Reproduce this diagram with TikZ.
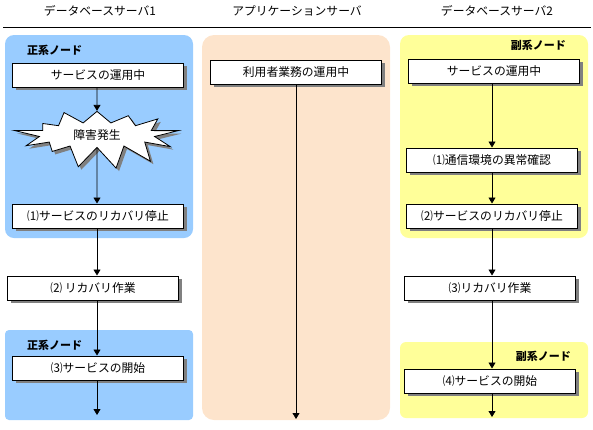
\documentclass[tikz,border=0pt]{standalone}
\usepackage{fontspec}
\setmainfont{Noto Sans CJK JP}
\usepackage{xcolor}
\usepackage{tikz}
\usetikzlibrary{shapes.symbols,shadows,arrows.meta}
\definecolor{primaryblue}{RGB}{153, 204, 255}
\definecolor{appbeige}{RGB}{253, 228, 204}
\definecolor{backupyellow}{RGB}{255, 255, 153}

\begin{document}
\begin{tikzpicture}[x=1pt, y=-1pt,
    font=\fontsize{11.8}{13}\selectfont,
    stepbox/.style={draw, rectangle, fill=white, line width=1pt, minimum width=171pt, minimum height=24pt, inner sep=0pt,
        drop shadow={shadow xshift=3pt, shadow yshift=-3pt, fill=gray, opacity=1}},
    rolelabel/.style={font=\fontsize{11}{13}\selectfont\bfseries, inner sep=0pt},
    flow/.style={-{Triangle[width=7pt,length=6pt]}, line width=0.8pt}]
        \useasboundingbox (0,0) rectangle (593,429);
        % column headers
        \node (head1) at (100,11) {データベースサーバ1};
        \node (head2) at (297,11) {アプリケーションサーバ};
        \node (head3) at (497,11) {データベースサーバ2};
        \draw[line width=1pt] (3,27) -- (591,27);
        % panels
        \fill[primaryblue, rounded corners=9pt] (5,35) rectangle (193,238);
        \fill[primaryblue, rounded corners=4pt] (5,330) rectangle (193,420);
        \fill[appbeige, rounded corners=12pt] (202,35) rectangle (390,420);
        \fill[backupyellow, rounded corners=9pt] (400,35) rectangle (588,238);
        \fill[backupyellow, rounded corners=6pt] (400,342) rectangle (588,418);
        \node (main1) [rolelabel, anchor=west] at (27,50) {正系ノード};
        \node (main2) [rolelabel, anchor=west] at (27,345) {正系ノード};
        \node (sub1) [rolelabel, anchor=east] at (566,45) {副系ノード};
        \node (sub2) [rolelabel, anchor=east] at (571,356) {副系ノード};

        % server 1
        \node (run1) [stepbox] at (98,75) {サービスの運用中};
        \node (fault) [starburst, draw, fill=white, line width=0.8pt, starburst points=13, starburst point height=26pt,
            random starburst=42, minimum width=168pt, minimum height=46pt,
            drop shadow={shadow xshift=3pt, shadow yshift=-3pt, fill=gray, opacity=1}] at (97,135) {障害発生};
        \node (stopA) [stepbox] at (98,216) {⑴サービスのリカバリ停止};
        \node (recovA) [stepbox] at (93,288) {⑵ リカバリ作業};
        \node (startA) [stepbox] at (98,368) {⑶サービスの開始};
        \coordinate (endA) at (97,415);

        % application server
        \node (user) [stepbox] at (296,72) {利用者業務の運用中};
        \coordinate (endB) at (296,419);

        % server 2
        \node (run2) [stepbox] at (494,71) {サービスの運用中};
        \node (check) [stepbox] at (492,160) {⑴通信環境の異常確認};
        \node (stopB) [stepbox] at (492,216) {⑵サービスのリカバリ停止};
        \node (recovB) [stepbox] at (490,288) {⑶リカバリ作業};
        \node (startB) [stepbox] at (490,381) {⑷サービスの開始};
        \coordinate (endC) at (492,417);

        \draw[flow] (run1.south -| fault) -- (fault);
        \draw[flow] (fault) -- (fault |- stopA.north);
        \draw[flow] (fault |- stopA.south) -- (fault |- recovA.north);
        \draw[flow] (fault |- recovA.south) -- (fault |- startA.north);
        \draw[flow] (fault |- startA.south) -- (endA);
        \draw[flow] (user) -- (endB);
        \draw[flow] (endC |- run2.south) -- (endC |- check.north);
        \draw[flow] (endC |- check.south) -- (endC |- stopB.north);
        \draw[flow] (endC |- stopB.south) -- (endC |- recovB.north);
        \draw[flow] (endC |- recovB.south) -- (endC |- startB.north);
        \draw[flow] (endC |- startB.south) -- (endC);
    \end{tikzpicture}
\end{document}
